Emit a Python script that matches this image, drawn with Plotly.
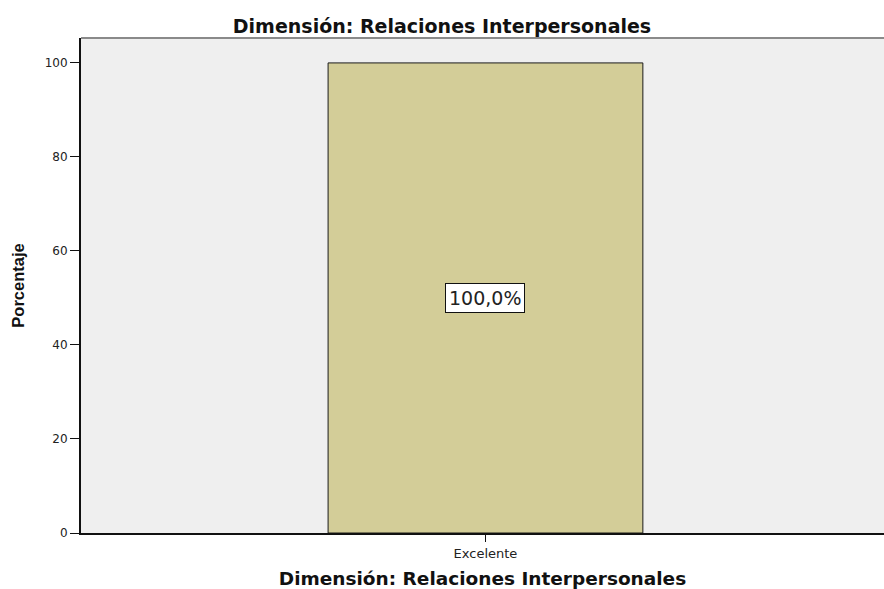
import plotly.graph_objects as go

categories = ["Excelente"]
percentages = [100.0]
y_ticks = [0, 20, 40, 60, 80, 100]

labels = [f"{v:.1f}%".replace(".", ",") for v in percentages]

fig = go.Figure()
fig.add_trace(go.Bar(
    x=categories, y=percentages, width=0.392,
    marker=dict(color="#D3CD98", line=dict(color="#1a1a1a", width=1)),
    hoverinfo="skip",
))
for c, v, t in zip(categories, percentages, labels):
    fig.add_annotation(x=c, y=v / 2, text=t, showarrow=False,
                       font=dict(family="DejaVu Sans", size=19, color="#222222"),
                       bgcolor="white", bordercolor="#111111", borderwidth=1, borderpad=3)

fig.add_shape(type="line", xref="paper", yref="paper", x0=0, x1=1, y0=1, y1=1,
              line=dict(color="#8a8a8a", width=2))

fig.update_layout(
    width=884, height=589,
    margin=dict(l=81, r=0, t=38, b=56),
    paper_bgcolor="white", plot_bgcolor="#EFEFEF",
    showlegend=False,
    title=dict(text="<b>Dimensión: Relaciones Interpersonales</b>", x=0.5, xanchor="center",
               y=1 - 26 / 589, yanchor="middle",
               font=dict(family="DejaVu Sans", size=19, color="#111111")),
    xaxis=dict(range=[-0.5037, 0.4963], showline=True, linecolor="#111111", linewidth=2,
               ticks="outside", ticklen=7, tickcolor="#111111",
               tickfont=dict(family="DejaVu Sans", size=13, color="#222222"),
               title=dict(text="<b>Dimensión: Relaciones Interpersonales</b>", standoff=12,
                          font=dict(family="DejaVu Sans", size=18.5, color="#111111")),
               showgrid=False, zeroline=False),
    yaxis=dict(range=[0, 105.3], tickvals=y_ticks, showline=True, linecolor="#111111", linewidth=2,
               ticks="outside", ticklen=9, tickcolor="#111111",
               tickfont=dict(family="DejaVu Sans", size=12, color="#222222"),
               title=dict(text="<b>Porcentaje</b>", standoff=16,
                          font=dict(family="Liberation Sans, Arial", size=16.5, color="#111111")),
               showgrid=False, zeroline=False),
)

fig.write_html("out.html", config={"displayModeBar": False},
               post_script="document.body.style.margin='0';document.body.style.overflow='hidden';")
